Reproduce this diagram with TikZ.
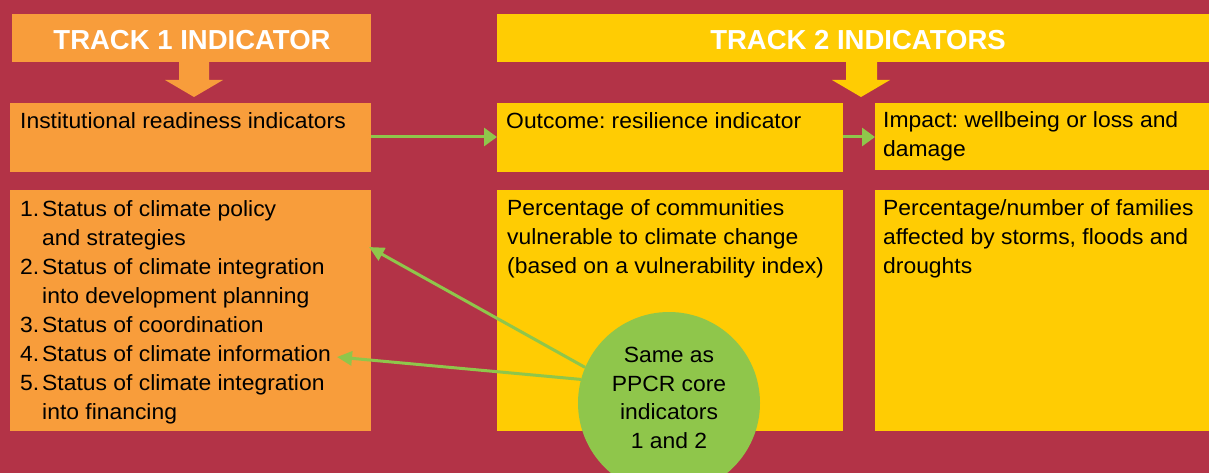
\documentclass[tikz,border=0pt]{standalone}
\usepackage{fontspec}
\setmainfont{Liberation Sans}[FakeStretch=1.04]
\newfontfamily\hdrfont{Liberation Sans}
\usetikzlibrary{arrows.meta}
\definecolor{bgred}{RGB}{179,51,71}
\definecolor{torange}{RGB}{248,157,59}
\definecolor{tyellow}{RGB}{255,204,3}
\definecolor{tgreen}{RGB}{143,198,75}
\frenchspacing
\tikzset{
  box/.style={rectangle, inner sep=0pt, outer sep=0pt, anchor=north west},
  hdr/.style={font=\hdrfont\bfseries\fontsize{27.5}{32}\selectfont, text=white, anchor=base, inner sep=0pt},
  txt/.style={font=\fontsize{22}{29}\selectfont, text=black, anchor=base west, inner sep=0pt},
  ctxt/.style={font=\fontsize{22}{29}\selectfont, text=black, anchor=base, inner sep=0pt},
  garrow/.style={draw=tgreen, line width=3pt, -{Triangle[length=13pt,width=18pt]}},
  garrow2/.style={draw=tgreen, line width=3pt, -{Triangle[length=15pt,width=14pt]}},
}
\begin{document}
\begin{tikzpicture}[x=1pt,y=-1pt]
\useasboundingbox (0,0) rectangle (1209,473);
\clip (0,0) rectangle (1209,473);
\fill[bgred] (0,0) rectangle (1209,473);

% headers
\node[box, fill=torange, minimum width=359pt, minimum height=48pt] (h1) at (12,14) {};
\node[box, fill=tyellow, minimum width=712pt, minimum height=48pt] (h2) at (497,14) {};
\node[hdr] (h1t) at (192,50) {TRACK 1 INDICATOR};
\node[hdr] (h2t) at (858,50) {TRACK 2 INDICATORS};

% block arrows
\fill[torange] (179,62) -- (209,62) -- (209,80) -- (223,80) -- (194,97) -- (165,80) -- (179,80) -- cycle;
\fill[tyellow] (846,62) -- (877,62) -- (877,80) -- (890,80) -- (861,97) -- (832,80) -- (846,80) -- cycle;

% top row boxes
\node[box, fill=torange, minimum width=361pt, minimum height=69pt] (inst) at (10,103) {};
\node[box, fill=tyellow, minimum width=346pt, minimum height=69pt] (outc) at (497,103) {};
\node[box, fill=tyellow, minimum width=334pt, minimum height=67pt] (imp) at (875,103) {};

% bottom row boxes
\node[box, fill=torange, minimum width=361pt, minimum height=241pt] (list) at (10,190) {};
\node[box, fill=tyellow, minimum width=346pt, minimum height=241pt] (outb) at (497,190) {};
\node[box, fill=tyellow, minimum width=334pt, minimum height=241pt] (impb) at (875,190) {};

% top row texts
\node[txt] (t1) at (20,129) {Institutional readiness indicators};
\node[txt] (t2) at (506,129) {Outcome: resilience indicator};
\node[txt] (t3a) at (883,128) {Impact: wellbeing or loss and};
\node[txt] (t3b) at (883,157) {damage};

% list
\node[txt] (n1) at (20,216) {1.};
\node[txt] (l1a) at (42,216) {Status of climate policy};
\node[txt] (l1b) at (42,245) {and strategies};
\node[txt] (n2) at (20,274) {2.};
\node[txt] (l2a) at (42,274) {Status of climate integration};
\node[txt] (l2b) at (42,303) {into development planning};
\node[txt] (n3) at (20,332) {3.};
\node[txt] (l3) at (42,332) {Status of coordination};
\node[txt] (n4) at (20,361) {4.};
\node[txt] (l4) at (42,361) {Status of climate information};
\node[txt] (n5) at (20,390) {5.};
\node[txt] (l5a) at (42,390) {Status of climate integration};
\node[txt] (l5b) at (42,419) {into financing};

% outcome bottom
\node[txt] (o1) at (507,215) {Percentage of communities};
\node[txt] (o2) at (507,244) {vulnerable to climate change};
\node[txt] (o3) at (507,273) {(based on a vulnerability index)};

% impact bottom
\node[txt] (i1) at (883,215) {Percentage/number of families};
\node[txt] (i2) at (883,244) {affected by storms, floods and};
\node[txt] (i3) at (883,273) {droughts};

% horizontal arrows
\draw[garrow] (inst.east |- 0,137) -- (outc.west |- 0,137);
\draw[garrow] (outc.east |- 0,137) -- (imp.west |- 0,137);

% circle
\node[circle, fill=tgreen, minimum size=182pt, inner sep=0pt] (circ) at (669,403) {};
\node[ctxt] (c1) at (669,362) {Same as};
\node[ctxt] (c2) at (669,391) {PPCR core};
\node[ctxt] (c3) at (669,419) {indicators};
\node[ctxt] (c4) at (669,448) {1 and 2};

\coordinate (tipA) at (369,247);
\coordinate (tipB) at (337,357);
\draw[garrow2] (circ.157) -- (tipA);
\draw[garrow2] (circ.165) -- (tipB);
\end{tikzpicture}
\end{document}
